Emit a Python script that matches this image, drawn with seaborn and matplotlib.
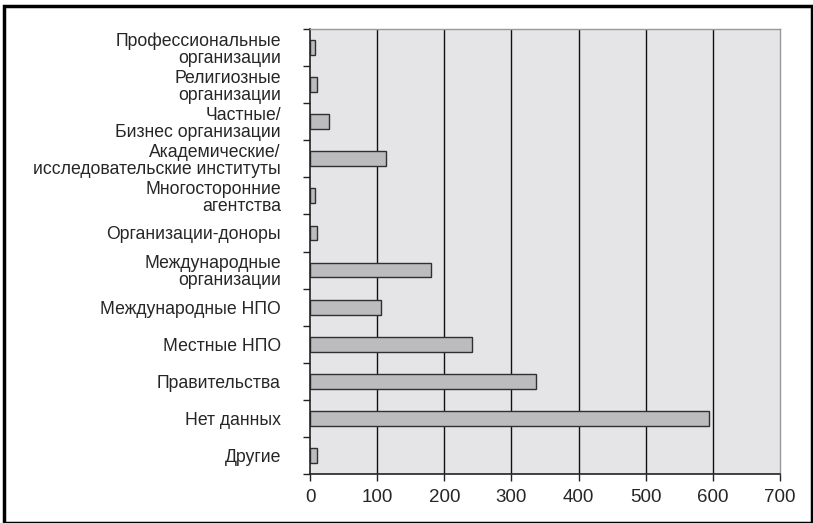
import matplotlib
matplotlib.use("Agg")
import matplotlib.pyplot as plt
import seaborn as sns
import pandas as pd
from matplotlib.patches import Rectangle
from matplotlib.ticker import FixedLocator

# Categories (top to bottom) and counts
categories = [
    "Профессиональные\nорганизации",
    "Религиозные\nорганизации",
    "Частные/\nБизнес организации",
    "Академические/\nисследовательские институты",
    "Многосторонние\nагентства",
    "Организации-доноры",
    "Международные\nорганизации",
    "Международные НПО",
    "Местные НПО",
    "Правительства",
    "Нет данных",
    "Другие",
]
counts = [8, 11, 28, 113, 8, 11, 180, 105, 241, 337, 594, 11]
x_ticks = [0, 100, 200, 300, 400, 500, 600, 700]

df = pd.DataFrame({"category": categories, "count": counts})

sns.set_style("white")
plt.rcParams["font.family"] = ["Liberation Sans", "DejaVu Sans"]

fig = plt.figure(figsize=(8.13, 5.23), dpi=100)
ax = fig.add_axes([310 / 813, 1 - 474 / 523, 470 / 813, 445 / 523])
ax.set_facecolor("#e5e5e7")

sns.barplot(data=df, x="count", y="category", orient="h", ax=ax,
            color="#bcbcbf", edgecolor="#303030", linewidth=1.0,
            width=0.4, saturation=1)

ax.set_xlim(0, 700)
ax.set_ylim(len(categories) - 0.5, -0.5)
ax.set_xticks(x_ticks)
ax.set_xticklabels([str(t) for t in x_ticks], fontsize=13.5)
for t in x_ticks[1:-1]:
    ax.axvline(t, color="#111111", linewidth=1.0, zorder=0.5)

# category labels, right aligned
ax.set_yticks(range(len(categories)))
ax.set_yticklabels(categories, fontsize=12.7, linespacing=1.02, ha="right")
ax.tick_params(axis="y", which="major", left=True, length=0, pad=21)
ax.yaxis.set_minor_locator(FixedLocator([i + 0.5 for i in range(-1, len(categories))]))
ax.tick_params(axis="y", which="minor", left=True, length=5, width=1,
               color="#222222", direction="out")
ax.tick_params(axis="x", bottom=True, length=5, width=1, color="#222222",
               direction="out", pad=6)

ax.set_xlabel("")
ax.set_ylabel("")
for side in ["left", "bottom"]:
    ax.spines[side].set_color("#222222")
    ax.spines[side].set_linewidth(1.2)
for side in ["top", "right"]:
    ax.spines[side].set_color("#999999")
    ax.spines[side].set_linewidth(1.0)

# outer frame around the whole figure
fig.patches.append(Rectangle((4 / 813, 0), 808 / 813, 1 - 6 / 523,
                             transform=fig.transFigure, fill=False,
                             edgecolor="black", linewidth=2.5))

fig.savefig("out.png", dpi=100)
